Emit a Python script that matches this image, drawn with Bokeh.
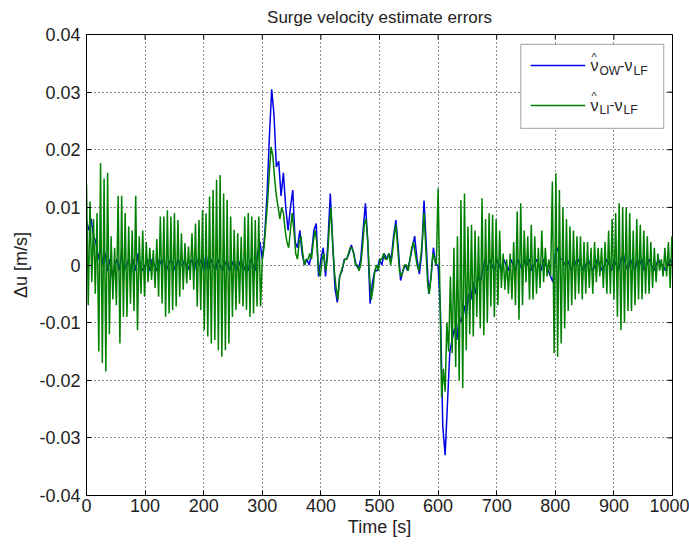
import numpy as np
from bokeh.plotting import figure
from bokeh.models import Range1d, FixedTicker, BoxAnnotation, Label
from bokeh.embed import file_html
from bokeh.resources import INLINE

title_text = "Surge velocity estimate errors"
x_label = "Time [s]"
y_label = "Δu [m/s]"
x_ticks = [0, 100, 200, 300, 400, 500, 600, 700, 800, 900, 1000]
y_ticks = [-0.04, -0.03, -0.02, -0.01, 0.0, 0.01, 0.02, 0.03, 0.04]
y_tick_labels = ["-0.04", "-0.03", "-0.02", "-0.01", "0", "0.01", "0.02", "0.03", "0.04"]

# --- OW estimate error (blue), read every 4 s ---
blue_a_start = 0
blue_a = [
    0.0077, 0.006, 0.008, 0.005, 0.004, 0.001, 0.003, 0.000, 0.002, -0.001,
    0.001, -0.002, 0.000, 0.001, -0.001, 0.002, -0.001, 0.000, 0.001, -0.0015,
    0.001, -0.001, 0.002, 0.000, -0.001, 0.000, 0.001, -0.001, 0.001, 0.000,
    -0.001, 0.001, 0.000, 0.001, -0.001, 0.000, 0.001, 0.000, -0.001, 0.001,
    0.000, 0.000, 0.001, -0.001, 0.000, 0.001, -0.001, 0.001, 0.000, 0.001,
    -0.001, 0.002, -0.001, 0.001, 0.000, -0.001, 0.001, 0.000, -0.001, 0.000,
    0.001, -0.001, 0.000, 0.001, -0.001, 0.000, 0.001, -0.001, 0.000, -0.001,
    0.001, 0.000, -0.001, 0.002, 0.004, 0.001,
]
blue_b_start = 304
blue_b = [
    0.005, 0.012, 0.022, 0.0305, 0.026, 0.017, 0.018, 0.012, 0.016, 0.010,
    0.006, 0.010, 0.013, 0.004, 0.003, 0.006, 0.002, 0.000, 0.001, 0.000,
    0.002, 0.006, 0.0072, -0.002, 0.001, 0.003, -0.002, 0.004, 0.0124, 0.004,
    -0.004, -0.0065, -0.002, -0.001, 0.001, 0.001, 0.002, 0.0035, 0.002, 0.000,
    -0.0006, 0.001, 0.006, 0.0107, 0.004, -0.0067, -0.003, -0.001, -0.001, 0.001,
    0.000, 0.002, 0.001, 0.002, 0.001, 0.005, 0.0078, 0.003, -0.0027, -0.001,
    0.000, -0.001, 0.001, 0.003, 0.005, 0.001, -0.0016, 0.002, 0.0112, 0.003,
    -0.005, -0.002, 0.003, 0.000,
]
blue_c_start = 600
blue_c = [
    0.000, -0.008, -0.028, -0.033, -0.024, -0.015, -0.013, -0.011, -0.013, -0.009,
    -0.010, -0.007, -0.009, -0.005, -0.006, -0.003, -0.005, -0.002, -0.003, -0.001,
    0.001, -0.001, 0.001, 0.000, -0.001, 0.001, 0.000, -0.001, 0.001, 0.000,
    -0.001, 0.001, 0.000, -0.001, 0.001, 0.000, -0.001, 0.001, 0.000, 0.001,
    -0.001, 0.000, 0.001, 0.000, -0.001, 0.001, 0.000, -0.001, -0.002, -0.003,
    0.002, 0.003, 0.001, 0.001, 0.000, 0.001, 0.000, -0.001, 0.001, 0.000,
    0.001, 0.000, -0.001, 0.000, 0.001, 0.000, -0.001, 0.000, 0.001, 0.000,
    -0.001, 0.000, 0.001, 0.000, -0.001, 0.001, 0.000, -0.001, 0.001, 0.002,
    0.000, -0.001, 0.001, 0.000, -0.001, 0.001, 0.000, 0.001, -0.001, 0.000,
    0.001, 0.000, -0.001, 0.000, 0.001, 0.000, 0.000, -0.001, 0.000, 0.001,
    0.000,
]

# --- LI estimate error (green), read every 3 s ---
green_a_start = 0
green_a = [
    0.014, -0.007, 0.011, -0.003, 0.008, -0.005, 0.009, -0.015, 0.0177, -0.017,
    0.015, -0.0185, 0.016, -0.012, 0.005, -0.006, 0.003, -0.007, 0.012, -0.0136,
    0.012, -0.009, 0.009, -0.009, 0.0067, -0.0067, 0.006, -0.008, 0.012, -0.0113,
    0.005, -0.005, 0.006, -0.0055, 0.004, -0.003, 0.003, -0.0026, 0.0026, -0.004,
    0.0045, -0.0055, 0.0084, -0.0067, 0.0084, -0.009, 0.0095, -0.0084, 0.0084, -0.0078,
    0.009, -0.0072, 0.0078, -0.0055, 0.0055, -0.0043, 0.0038, -0.0032, 0.0032, -0.0026,
    0.0055, -0.0043, 0.0072, -0.0072, 0.0078, -0.0078, 0.0095, -0.0113, 0.009, -0.0124,
    0.0119, -0.0136, 0.013, -0.013, 0.0148, -0.0148, 0.0156, -0.0159, 0.0124, -0.0148,
    0.0113, -0.0136, 0.0084, -0.009, 0.0061, -0.0078, 0.0055, -0.0067, 0.0049, -0.0072,
    0.0084, -0.0078, 0.009, -0.009, 0.0084, -0.0084, 0.0078, -0.0072, 0.0084, -0.0072,
]
green_b_start = 300
green_b = [
    0.001, 0.003, 0.007, 0.011, 0.016, 0.0205, 0.019, 0.015, 0.012, 0.010,
    0.008, 0.010, 0.009, 0.006, 0.004, 0.003, 0.006, 0.009, 0.006, 0.002,
    0.001, 0.004, 0.005, 0.002, 0.000, 0.001, 0.001, 0.002, 0.001, 0.004,
    0.006, 0.004, -0.001, -0.002, 0.001, 0.002, -0.001, 0.001, 0.006, 0.010,
    0.004, -0.001, -0.004, -0.006, -0.002, -0.001, 0.000, 0.001, 0.001, 0.002,
    0.003, 0.003, 0.002, 0.000, 0.000, -0.001, 0.000, 0.003, 0.007, 0.008,
    0.004, -0.002, -0.006, -0.004, -0.001, 0.000, -0.001, 0.001, 0.001, 0.002,
    0.001, 0.001, 0.002, 0.000, 0.002, 0.005, 0.007, 0.003, -0.001, -0.002,
    -0.001, 0.000, 0.000, -0.001, 0.001, 0.003, 0.004, 0.002, 0.000, -0.001,
    0.001, 0.004, 0.009, 0.003, -0.003, -0.005, -0.002, 0.002, 0.001, 0.000,
]
green_c_start = 600
green_c = [
    0.0133, -0.004, -0.023, -0.018, -0.022, -0.010, -0.015, -0.002, -0.0153, 0.003,
    -0.0177, 0.005, -0.020, 0.0113, -0.0214, 0.0124, -0.0148, 0.0067, -0.012, 0.007,
    -0.0124, 0.006, -0.009, 0.005, -0.011, 0.0116, -0.0122, 0.008, -0.010, 0.009,
    -0.0072, 0.0087, -0.009, 0.008, -0.007, 0.006, -0.004, 0.002, -0.0043, 0.001,
    -0.005, 0.002, -0.006, 0.004, -0.007, 0.0093, -0.0095, 0.0107, -0.007, 0.006,
    -0.003, 0.005, -0.006, 0.007, -0.006, 0.005, -0.005, 0.003, -0.004, 0.006,
    -0.003, 0.003, -0.002, 0.001, -0.002, 0.0145, -0.0153, 0.0159, -0.0159, 0.013,
    -0.0136, 0.010, -0.011, 0.008, -0.008, 0.0067, -0.007, 0.006, -0.006, 0.005,
    -0.005, 0.005, -0.006, 0.004, -0.005, 0.004, -0.004, 0.003, -0.005, 0.004,
    -0.003, 0.003, -0.002, 0.003, -0.004, 0.004, -0.005, 0.006, -0.005, 0.008,
    -0.006, 0.009, -0.009, 0.0107, -0.0113, 0.010, -0.010, 0.010, -0.008, 0.009,
    -0.008, 0.006, -0.007, 0.008, -0.006, 0.007, -0.006, 0.006, -0.005, 0.005,
    -0.005, 0.004, -0.004, 0.003, -0.003, 0.002, -0.001, 0.001, -0.002, 0.003,
    -0.002, 0.004, -0.004, 0.005,
]


def times(start, step, vals):
    return start + step * np.arange(len(vals))


blue_t = np.concatenate([times(blue_a_start, 4, blue_a), times(blue_b_start, 4, blue_b),
                         times(blue_c_start, 4, blue_c)])
blue_v = np.array(blue_a + blue_b + blue_c)
green_t = np.concatenate([times(green_a_start, 3, green_a), times(green_b_start, 3, green_b),
                          times(green_c_start, 3, green_c)])
green_v = np.array(green_a + green_b + green_c)

FONT = "Liberation Sans"
TXT = "#222222"
BLUE = "#0000e6"
GREEN = "#008000"

X0, X1 = 0, 1000
Y0, Y1 = -0.04, 0.04
FRAME_W, FRAME_H = 586, 461

p = figure(width=689, height=548, output_backend="svg", toolbar_location=None,
           x_range=Range1d(X0, X1), y_range=Range1d(Y0, Y1),
           min_border_left=86, min_border_right=17, min_border_top=34, min_border_bottom=53,
           background_fill_color="white", border_fill_color="white")
p.outline_line_color = "black"

p.title.text = title_text
p.title.align = "center"
p.title.vertical_align = "top"
p.title.text_font = FONT
p.title.text_font_size = "17px"
p.title.text_font_style = "normal"
p.title.text_color = TXT
p.title.standoff = 12

for g in (p.xgrid, p.ygrid):
    g.grid_line_color = "black"
    g.grid_line_dash = "1 3"
    g.grid_line_alpha = 0.9
p.xgrid.ticker = FixedTicker(ticks=x_ticks)
p.ygrid.ticker = FixedTicker(ticks=y_ticks)

# legend box (opaque, above grid, below lines)
p.add_layout(BoxAnnotation(left=741, right=985, bottom=0.0237, top=0.0383,
                           fill_color="white", fill_alpha=1.0, line_color="black",
                           line_width=1.2, level="underlay"))

p.line(blue_t, blue_v, line_color=BLUE, line_width=1.5)
p.line(green_t, green_v, line_color=GREEN, line_width=1.5)

# inward ticks on the top and right edges
tick_dx = 5 * (X1 - X0) / FRAME_W
tick_dy = 5 * (Y1 - Y0) / FRAME_H
p.segment(x0=x_ticks, x1=x_ticks, y0=[Y1] * len(x_ticks), y1=[Y1 - tick_dy] * len(x_ticks),
          line_color="black", line_width=1)
p.segment(x0=[X1] * len(y_ticks), x1=[X1 - tick_dx] * len(y_ticks), y0=y_ticks, y1=y_ticks,
          line_color="black", line_width=1)

for ax in p.xaxis:
    ax.ticker = FixedTicker(ticks=x_ticks)
    ax.axis_label = x_label
for ax in p.yaxis:
    ax.ticker = FixedTicker(ticks=y_ticks)
    ax.major_label_overrides = {t: s for t, s in zip(y_ticks, y_tick_labels)}
    ax.axis_label = y_label

for ax in list(p.xaxis) + list(p.yaxis):
    ax.major_tick_in = 5
    ax.major_tick_out = 0
    ax.minor_tick_line_color = None
    ax.axis_line_color = "black"
    ax.major_tick_line_color = "black"
    ax.major_label_text_font = FONT
    ax.major_label_text_font_size = "18px"
    ax.major_label_text_color = TXT
    ax.axis_label_text_font = FONT
    ax.axis_label_text_font_size = "18px"
    ax.axis_label_text_font_style = "normal"
    ax.axis_label_text_color = TXT
p.xaxis.major_label_standoff = 3
p.xaxis.axis_label_standoff = 2
p.yaxis.major_label_standoff = 6
p.yaxis.axis_label_standoff = 5

# legend entries (manual, to allow hats and subscripts)
leg_y1 = 0.0346
leg_y2 = 0.0277
p.line([758, 851], [leg_y1, leg_y1], line_color=BLUE, line_width=1.5)
p.line([758, 851], [leg_y2, leg_y2], line_color=GREEN, line_width=1.5)

legend_parts = [
    (leg_y1, [("ν", 0, 0, "16px"), ("OW", 9, -5, "12px"), ("-", 29, 0, "15px"),
              ("ν", 34, 0, "16px"), ("LF", 43, -5, "12px")]),
    (leg_y2, [("ν", 0, 0, "16px"), ("LI", 9, -5, "12px"), ("-", 19, 0, "15px"),
              ("ν", 24, 0, "16px"), ("LF", 33, -5, "12px")]),
]
for yy, parts in legend_parts:
    p.add_layout(Label(x=860, y=yy, x_offset=1, y_offset=9, text="^", text_font=FONT,
                       text_font_size="11px", text_baseline="middle", text_color=TXT))
    for txt, dx, dy, fs in parts:
        p.add_layout(Label(x=860, y=yy, x_offset=dx, y_offset=dy, text=txt, text_font=FONT,
                           text_font_size=fs, text_baseline="middle", text_color=TXT))

open("out.html", "w").write(file_html(p, INLINE))
